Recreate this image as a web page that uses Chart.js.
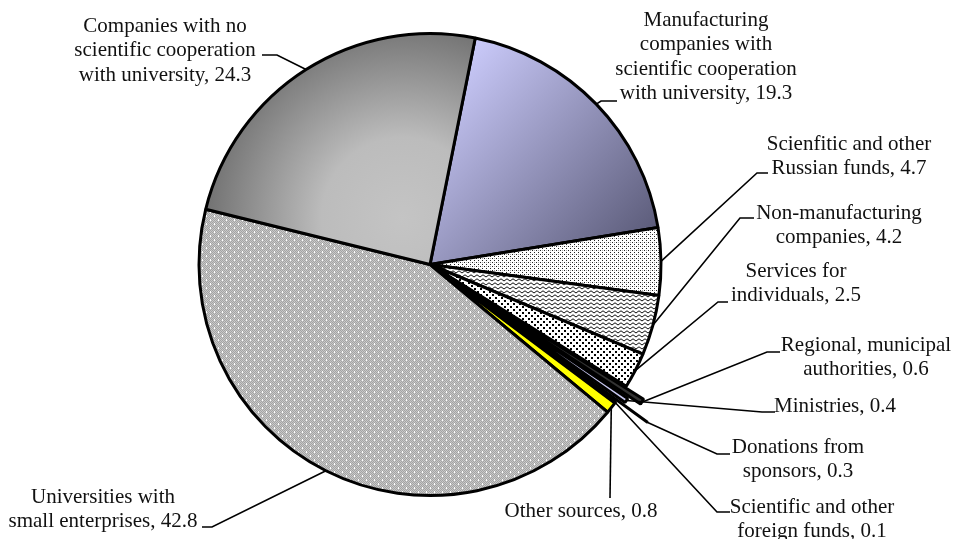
<!DOCTYPE html>
<html>
<head>
<meta charset="utf-8">
<script src="https://cdn.jsdelivr.net/npm/chart.js@4.4.1/dist/chart.umd.min.js"></script>
<style>
  html, body { margin: 0; padding: 0; background: #fff; overflow: hidden; }
  #wrap { width: 955px; height: 539px; overflow: hidden; position: relative; }
  #pie { position: absolute; left: 0; top: -6px; }
</style>
</head>
<body>
<div id="wrap"><canvas id="pie" width="955" height="547"></canvas></div>
<script>
// Funding sources, share in %
const categories = [
  ['Manufacturing', 'companies with', 'scientific cooperation', 'with university'],
  ['Scienfitic and other', 'Russian funds'],
  ['Non-manufacturing', 'companies'],
  ['Services for', 'individuals'],
  ['Regional, municipal', 'authorities'],
  ['Ministries'],
  ['Donations from', 'sponsors'],
  ['Scientific and other', 'foreign funds'],
  ['Other sources'],
  ['Universities with', 'small enterprises'],
  ['Companies with no', 'scientific cooperation', 'with university']
];
const shares = [19.3, 4.7, 4.2, 2.5, 0.6, 0.4, 0.3, 0.1, 0.8, 42.8, 24.3];

// pulled-out small slices (Chart.js moves a slice out by about half of this)
const explode = [0, 0, 0, 0, 44, 16, 76, 0, 0, 0, 0];

// the canvas sits 6px above the page top so the pie keeps its size
const SHIFT = 6;

// label placement in page pixels: text centre x, first line y, leader elbow (ex, ey), tail end hx
const labelPos = [
  { cx: 706, ty: 20,  ex: 601, ey: 101, hx: 617 },
  { cx: 849, ty: 144, ex: 757, ey: 173, hx: 768 },
  { cx: 839, ty: 213, ex: 740, ey: 218, hx: 754 },
  { cx: 796, ty: 271, ex: 718, ey: 302, hx: 728 },
  { cx: 866, ty: 345, ex: 767, ey: 352, hx: 780 },
  { cx: 835, ty: 406, ex: 762, ey: 412, hx: 775 },
  { cx: 798, ty: 447, ex: 717, ey: 454, hx: 730 },
  { cx: 812, ty: 507, ex: 717, ey: 512, hx: 730 },
  { cx: 581, ty: 511, ex: 610, ey: 498, hx: 610 },
  { cx: 103, ty: 497, ex: 212, ey: 527, hx: 202 },
  { cx: 165, ty: 26,  ex: 277, ey: 55,  hx: 262 }
];
const LINE_H = 24.5;

function makePattern(w, h, paint) {
  const c = document.createElement('canvas');
  c.width = w; c.height = h;
  const g = c.getContext('2d');
  paint(g, w, h);
  return g.createPattern(c, 'repeat');
}

const fineDots = makePattern(4, 4, (g) => {
  g.fillStyle = '#fff'; g.fillRect(0, 0, 4, 4);
  g.fillStyle = '#222'; g.fillRect(0, 0, 1, 1); g.fillRect(2, 2, 1, 1);
  g.fillStyle = '#aaa'; g.fillRect(2, 0, 1, 1);
});

const waves = makePattern(6, 4, (g) => {
  g.fillStyle = '#fff'; g.fillRect(0, 0, 6, 4);
  g.strokeStyle = '#111'; g.lineWidth = 1;
  g.beginPath(); g.moveTo(0, 3); g.lineTo(3, 0.8); g.lineTo(6, 3); g.stroke();
});

const bigDots = makePattern(6, 6, (g) => {
  g.fillStyle = '#fff'; g.fillRect(0, 0, 6, 6);
  g.fillStyle = '#000'; g.fillRect(0, 0, 2, 2); g.fillRect(3, 3, 2, 2);
});

const greyGrid = makePattern(8, 8, (g) => {
  for (let y = 0; y < 8; y++) {
    for (let x = 0; x < 8; x++) {
      g.fillStyle = (x + y) % 2 === 0 ? '#a4a4a4' : '#c8c8c8';
      g.fillRect(x, y, 1, 1);
    }
  }
  g.fillStyle = '#fff';
  g.fillRect(2, 1, 1, 2); g.fillRect(6, 5, 1, 2);
});

function sliceFill(ctx) {
  const i = ctx.dataIndex;
  const area = ctx.chart.chartArea;
  const flat = [null, fineDots, waves, bigDots, '#333333', '#c8c8f0', '#0a0a40', '#ffffff', '#ffff00', greyGrid, null];
  if (flat[i]) return flat[i];
  if (!area) return '#bbb';
  const cx = (area.left + area.right) / 2;
  const cy = (area.top + area.bottom) / 2;
  const r = 231;
  const g = ctx.chart.ctx;
  if (i === 0) {
    const lg = g.createLinearGradient(cx + 0.11 * r, cy - 0.88 * r, cx + 0.95 * r, cy - 0.12 * r);
    lg.addColorStop(0, '#cacafa');
    lg.addColorStop(1, '#5c5c7a');
    return lg;
  }
  const rg = g.createRadialGradient(cx - 0.12 * r, cy - 0.2 * r, 0, cx - 0.12 * r, cy - 0.2 * r, 1.0 * r);
  rg.addColorStop(0, '#c4c4c4');
  rg.addColorStop(0.35, '#bcbcbc');
  rg.addColorStop(1, '#5c5c5c');
  return rg;
}

// leader lines and the wrapped category labels
const leaderLabels = {
  id: 'leaderLabels',
  afterDatasetsDraw(chart) {
    const g = chart.ctx;
    const arcs = chart.getDatasetMeta(0).data;
    g.save();
    g.strokeStyle = '#000';
    g.lineWidth = 1.6;
    arcs.forEach((arc, i) => {
      const p = labelPos[i];
      const mid = (arc.startAngle + arc.endAngle) / 2;
      const r = arc.outerRadius + explode[i] / 2;
      const ax = arc.x + Math.cos(mid) * r;
      const ay = arc.y + Math.sin(mid) * r;
      g.beginPath();
      g.moveTo(ax, ay);
      g.lineTo(p.ex, p.ey + SHIFT);
      g.lineTo(p.hx, p.ey + SHIFT);
      g.stroke();
    });
    g.fillStyle = '#111';
    g.font = '21px "Liberation Serif", "Times New Roman", serif';
    g.textAlign = 'center';
    g.textBaseline = 'middle';
    categories.forEach((lines, i) => {
      const p = labelPos[i];
      const txt = lines.slice();
      txt[txt.length - 1] += ', ' + shares[i].toFixed(1);
      txt.forEach((t, k) => g.fillText(t, p.cx, p.ty + SHIFT + k * LINE_H));
    });
    g.restore();
  }
};

new Chart(document.getElementById('pie'), {
  type: 'pie',
  data: {
    labels: categories,
    datasets: [{
      data: shares,
      backgroundColor: sliceFill,
      borderColor: '#000',
      borderWidth: 3,
      offset: explode
    }]
  },
  options: {
    responsive: false,
    animation: false,
    rotation: 11.3,
    layout: { padding: { left: 159.5, right: 254.5, top: 0, bottom: 6 } },
    plugins: {
      legend: { display: false },
      tooltip: { enabled: false }
    }
  },
  plugins: [leaderLabels]
});
</script>
</body>
</html>
